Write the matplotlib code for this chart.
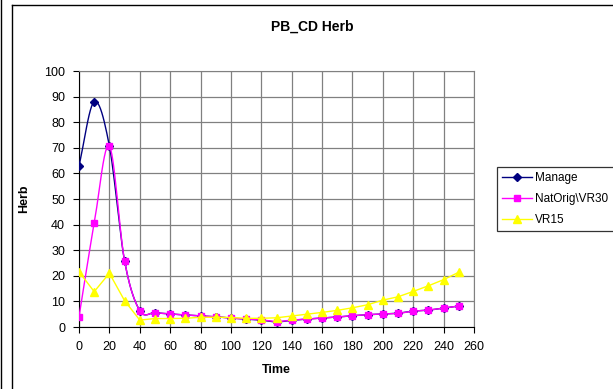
"""PB_CD Herb chart, Excel-style line plot."""
import numpy as np
import matplotlib
matplotlib.use("Agg")
import matplotlib.pyplot as plt
from matplotlib.lines import Line2D

plt.rcParams["font.family"] = ["Liberation Sans", "DejaVu Sans"]

time = [0, 10, 20, 30, 40, 50, 60, 70, 80, 90, 100, 110, 120,
        130, 140, 150, 160, 170, 180, 190, 200, 210, 220, 230, 240, 250]
manage = [63.0, 88.0, 70.7, 25.8, 6.4, 5.6, 5.1, 4.7, 4.3, 4.0, 3.5, 3.1, 2.7,
          2.0, 2.6, 3.1, 3.5, 3.9, 4.4, 4.8, 5.1, 5.4, 6.2, 6.6, 7.4, 8.2]
natorig = [4.0, 40.5, 70.7, 25.8, 6.4, 5.6, 5.1, 4.7, 4.3, 4.0, 3.5, 3.1, 2.8,
           2.1, 2.7, 3.1, 3.5, 3.9, 4.4, 4.8, 5.1, 5.3, 6.2, 6.6, 7.4, 8.2]
vr15 = [21.6, 13.8, 21.0, 10.3, 2.7, 3.3, 3.3, 3.4, 3.8, 3.8, 3.7, 3.4, 3.4,
        3.6, 4.3, 5.0, 5.7, 6.5, 7.5, 8.7, 10.5, 11.8, 13.9, 16.1, 18.5, 21.4]
labels = ["Manage", "NatOrig\\VR30", "VR15"]


def smooth(x, y, n=12):
    # Catmull-Rom style curve through the points, like Excel's smoothed line
    x = np.asarray(x, float)
    y = np.asarray(y, float)
    px = np.concatenate([[2 * x[0] - x[1]], x, [2 * x[-1] - x[-2]]])
    py = np.concatenate([[2 * y[0] - y[1]], y, [2 * y[-1] - y[-2]]])
    xs, ys = [], []
    t = np.linspace(0, 1, n, endpoint=False)
    for i in range(1, len(px) - 2):
        for arr, out in ((px, xs), (py, ys)):
            p0, p1, p2, p3 = arr[i - 1], arr[i], arr[i + 1], arr[i + 2]
            out.extend(0.5 * ((2 * p1) + (-p0 + p2) * t
                              + (2 * p0 - 5 * p1 + 4 * p2 - p3) * t ** 2
                              + (-p0 + 3 * p1 - 3 * p2 + p3) * t ** 3))
    xs.append(x[-1])
    ys.append(y[-1])
    return xs, ys


fig = plt.figure(figsize=(6.13, 3.89), dpi=100)
ax = fig.add_axes([79 / 613, 1 - 327 / 389, 395 / 613, 256 / 389])

# outer chart frame lines
fig.add_artist(Line2D([1.5 / 613, 1.5 / 613], [0, 1], color="black", lw=1.0))
fig.add_artist(Line2D([11.5 / 613, 11.5 / 613], [0, 1 - 5 / 389], color="black", lw=1.0))
fig.add_artist(Line2D([11.5 / 613, 1], [1 - 5 / 389, 1 - 5 / 389], color="black", lw=1.0))

sx, sy = smooth(time, manage)
ax.plot(sx, sy, color="#000080", lw=1, zorder=3)
ax.plot(time, manage, ls="none", marker="D", ms=4, color="#000080", zorder=3)

sx, sy = smooth(time, natorig)
ax.plot(sx, sy, color="#FF00FF", lw=1, zorder=4)
ax.plot(time, natorig, ls="none", marker="s", ms=5, color="#FF00FF", zorder=4)

ax.plot(time, vr15, color="#FFFF00", lw=1, marker="^", ms=6, zorder=5)

ax.set_xlim(0, 260)
ax.set_ylim(0, 100)
ax.set_xticks(range(0, 261, 20))
ax.set_yticks(range(0, 101, 10))
ax.grid(True, color="#808080", lw=0.9)
ax.set_axisbelow(True)
for side in ("top", "right"):
    ax.spines[side].set_color("#808080")
for side in ("left", "bottom"):
    ax.spines[side].set_color("black")
ax.tick_params(direction="out", length=4, width=0.8, labelsize=9, pad=6)

ax.set_xlabel("Time", fontsize=9, fontweight="bold", labelpad=8)
ax.set_ylabel("Herb", fontsize=9, fontweight="bold", labelpad=10)
fig.text(312 / 613, 1 - 27 / 389, "PB_CD Herb", ha="center", va="center",
         fontsize=10, fontweight="bold")

handles = [
    Line2D([], [], color="#000080", marker="D", ms=4, lw=1),
    Line2D([], [], color="#FF00FF", marker="s", ms=5, lw=1),
    Line2D([], [], color="#FFFF00", marker="^", ms=6, lw=1),
]
leg = fig.legend(handles, labels, loc="upper left",
                 bbox_to_anchor=(497 / 613, 1 - 167 / 389), fontsize=8.5,
                 frameon=True, fancybox=False, edgecolor="black",
                 handlelength=2.5, handletextpad=0.3, borderpad=0.45,
                 labelspacing=0.75, borderaxespad=0)
leg.get_frame().set_linewidth(0.9)

fig.savefig("out.png", dpi=100)
